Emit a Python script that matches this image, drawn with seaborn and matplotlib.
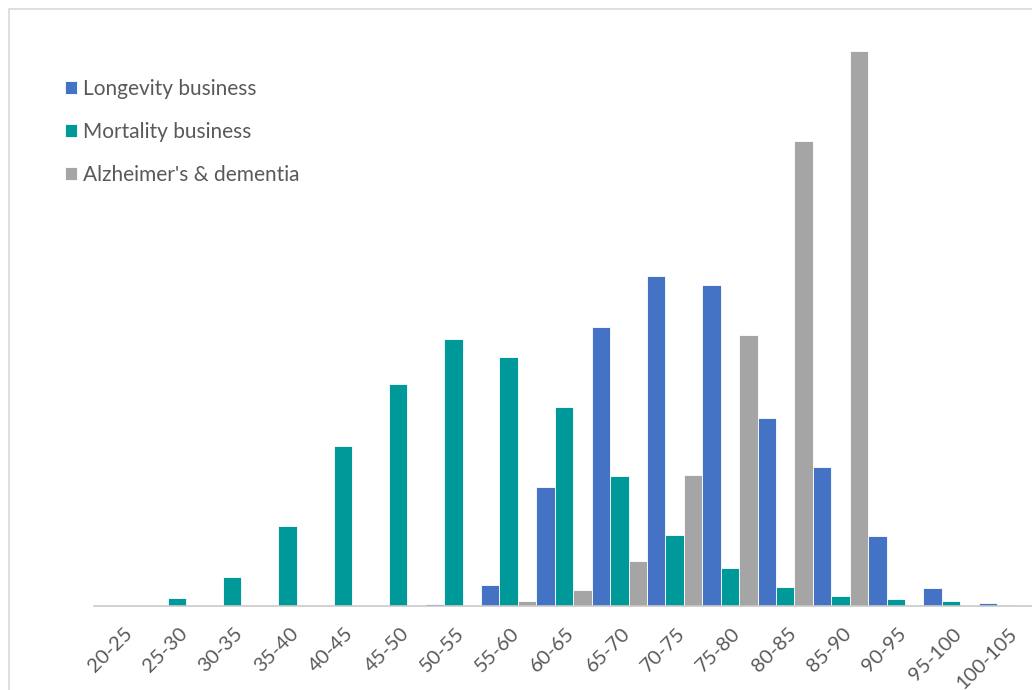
import matplotlib
matplotlib.use("Agg")
import matplotlib.pyplot as plt
import matplotlib.patches as mpatches
import matplotlib.transforms as mtransforms
import pandas as pd
import seaborn as sns

# Share of lives (%) by age band for each portfolio
age_bands = ["20-25", "25-30", "30-35", "35-40", "40-45", "45-50", "50-55", "55-60",
             "60-65", "65-70", "70-75", "75-80", "80-85", "85-90", "90-95", "95-100", "100-105"]
longevity = [0, 0, 0, 0, 0, 0, 0.13, 1.41, 7.99, 18.72, 22.15, 21.54, 12.62, 9.33, 4.70, 1.21, 0.20]
mortality = [0, 0.54, 1.95, 5.37, 10.74, 14.90, 17.92, 16.71, 13.36, 8.72, 4.77, 2.55, 1.28, 0.67, 0.47, 0.32, 0.07]
alzheimers = [0, 0, 0, 0, 0, 0, 0.03, 0.34, 1.07, 3.02, 8.79, 18.19, 31.21, 37.25, 0, 0, 0]

series_names = ["Longevity business", "Mortality business", "Alzheimer's & dementia"]
series_colors = ["#4472C4", "#009999", "#A5A5A5"]

df = pd.concat([
    pd.DataFrame({"band": age_bands, "share": vals, "series": name})
    for name, vals in zip(series_names, [longevity, mortality, alzheimers])
], ignore_index=True)

sns.set_theme(style="white")
plt.rcParams["font.family"] = ["Lato", "DejaVu Sans"]
text_color = "#595959"

W, H = 1032, 690
fig = plt.figure(figsize=(W / 100, H / 100), dpi=100)
fig.patch.set_facecolor("white")

# plot area in pixel terms
left_px, right_px = 94, 1034
base_px, top_px = 606, 10
ax = fig.add_axes([left_px / W, (H - base_px) / H,
                   (right_px - left_px) / W, (base_px - top_px) / H])

sns.barplot(data=df, x="band", y="share", hue="series", order=age_bands,
            hue_order=series_names, palette=dict(zip(series_names, series_colors)),
            width=1.0, edgecolor="white", linewidth=0.6, saturation=1,
            errorbar=None, ax=ax)

ax.set_xlim(-0.5, len(age_bands) - 0.5)
ax.set_ylim(0, 40)
ax.set_xlabel("")
ax.set_ylabel("")
ax.set_yticks([])
for side in ["left", "right", "top"]:
    ax.spines[side].set_visible(False)
ax.spines["bottom"].set_color("#C9C9C9")
ax.spines["bottom"].set_linewidth(1.2)
ax.spines["bottom"].set_clip_on(False)

ax.tick_params(axis="x", length=0, pad=18, labelsize=14.5, labelcolor=text_color)
ax.set_xticks(range(len(age_bands)))
ax.set_xticklabels(age_bands, rotation=45, ha="right", va="center", rotation_mode="anchor")
shift = mtransforms.ScaledTranslation(8 / 100, 0, fig.dpi_scale_trans)
for lbl in ax.get_xticklabels():
    lbl.set_transform(lbl.get_transform() + shift)

leg = ax.get_legend()
handles = leg.legend_handles
labels = [t.get_text() for t in leg.get_texts()]
leg.remove()
fig.legend(handles, labels, loc="upper left",
           bbox_to_anchor=(65 / W, 1 - 79 / H), frameon=False,
           fontsize=15, labelcolor=text_color,
           handlelength=0.58, handleheight=0.58, handletextpad=0.3,
           labelspacing=1.1, borderaxespad=0, borderpad=0)

# light frame around the chart area
fig.add_artist(mpatches.Rectangle((9 / W, -0.05), 1.2, 1 - 9 / H + 0.05,
                                  transform=fig.transFigure, fill=False,
                                  edgecolor="#D9D9D9", linewidth=1.2))

fig.savefig("out.png", dpi=100)
